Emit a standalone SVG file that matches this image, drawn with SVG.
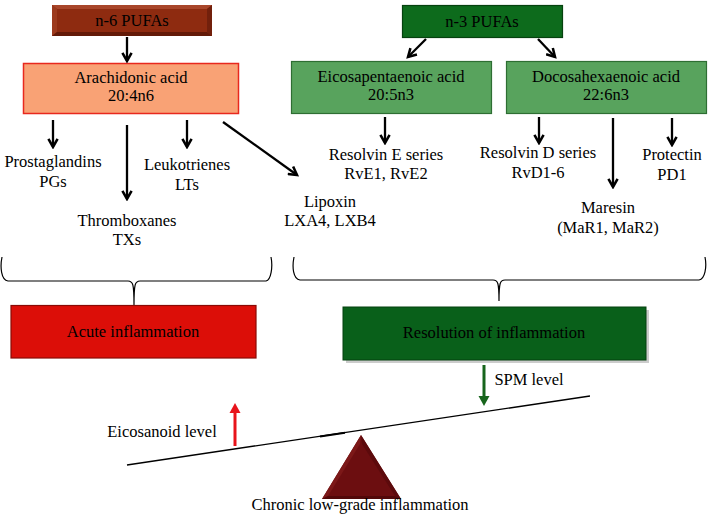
<svg xmlns="http://www.w3.org/2000/svg" width="708" height="516" viewBox="0 0 708 516">
<defs>
<style>
text{font-family:"Liberation Serif","Times New Roman",serif;font-size:16.5px;fill:#000;text-anchor:middle}
.ar{stroke:#000;stroke-width:2.3;fill:none}
.br{stroke:#000;stroke-width:1.2;fill:none}
</style>
<marker id="ah" viewBox="0 0 10 10" refX="8" refY="5" markerWidth="5" markerHeight="5" orient="auto" markerUnits="strokeWidth">
<path d="M1,1 L8,5 L1,9" fill="none" stroke="#000" stroke-width="2.2"/>
</marker>
</defs>
<rect width="708" height="516" fill="#fff"/>

<g id="n6">
<rect x="52" y="5" width="160" height="31" fill="#8E2B10"/>
<polygon points="52,5 212,5 207,9 57,9" fill="#A8462A"/>
<polygon points="52,5 57,9 57,32 52,36" fill="#9C3A1D"/>
<polygon points="52,36 57,32 207,32 212,36" fill="#631A08"/>
<polygon points="212,5 212,36 207,32 207,9" fill="#72200C"/>
<text x="132" y="26">n-6 PUFAs</text>
</g>
<g id="aa">
<rect x="23.5" y="63.5" width="215" height="50" fill="#F9A275" stroke="#E8281E" stroke-width="1.5"/>
<text x="131" y="83">Arachidonic acid</text>
<text x="131" y="101">20:4n6</text>
</g>
<g id="n3">
<rect x="402.5" y="5.5" width="160" height="32" fill="#0D6B1C" stroke="#06420F" stroke-width="1.2"/>
<text x="482" y="27">n-3 PUFAs</text>
</g>
<g id="epa">
<rect x="291.5" y="61.5" width="200" height="52" fill="#58A35D" stroke="#2E6E33" stroke-width="1.2"/>
<text x="391" y="82">Eicosapentaenoic acid</text>
<text x="391" y="100">20:5n3</text>
</g>
<g id="dha">
<rect x="506.5" y="61.5" width="200" height="52" fill="#58A35D" stroke="#2E6E33" stroke-width="1.2"/>
<text x="606" y="82">Docosahexaenoic acid</text>
<text x="606" y="100">22:6n3</text>
</g>

<g id="pg"><text x="53" y="167">Prostaglandins</text><text x="53" y="187">PGs</text></g>
<g id="tx"><text x="127" y="226">Thromboxanes</text><text x="127" y="245">TXs</text></g>
<g id="lt"><text x="187" y="170">Leukotrienes</text><text x="187" y="190">LTs</text></g>
<g id="lx"><text x="330" y="207">Lipoxin</text><text x="330" y="226">LXA4, LXB4</text></g>
<g id="rve"><text x="386" y="160">Resolvin E series</text><text x="386" y="179">RvE1, RvE2</text></g>
<g id="rvd"><text x="538" y="158">Resolvin D series</text><text x="538" y="178">RvD1-6</text></g>
<g id="pd"><text x="672" y="160">Protectin</text><text x="672" y="180">PD1</text></g>
<g id="mar"><text x="608" y="213">Maresin</text><text x="608" y="233">(MaR1, MaR2)</text></g>

<g id="connectors">
<line class="ar" x1="127" y1="37" x2="127" y2="61" marker-end="url(#ah)"/>
<line class="ar" x1="426" y1="39" x2="408" y2="57" marker-end="url(#ah)"/>
<line class="ar" x1="538" y1="39" x2="555" y2="57" marker-end="url(#ah)"/>
<line class="ar" x1="53" y1="120" x2="53" y2="147" marker-end="url(#ah)"/>
<line class="ar" x1="127" y1="125" x2="127" y2="199" marker-end="url(#ah)"/>
<line class="ar" x1="187" y1="120" x2="187" y2="147" marker-end="url(#ah)"/>
<line class="ar" x1="223" y1="122" x2="297" y2="175" marker-end="url(#ah)"/>
<line class="ar" x1="385" y1="117" x2="385" y2="143" marker-end="url(#ah)"/>
<line class="ar" x1="539" y1="117" x2="539" y2="143" marker-end="url(#ah)"/>
<line class="ar" x1="613" y1="118" x2="613" y2="187" marker-end="url(#ah)"/>
<line class="ar" x1="672" y1="118" x2="672" y2="145" marker-end="url(#ah)"/>
<path class="br" d="M2,257 C0,267 1,280 8,281 L128,281 C133,281 134,284 134,305 C134,284 135,281 140,281 L266,281 C271,280 273,267 271,257"/>
<path class="br" d="M294,257 C292,267 293,279 300,280 L493,280 C498,280 499,283 499,301 C499,283 500,280 505,280 L699,280 C705,279 707,267 705,257"/>
</g>

<g id="acute">
<rect x="11" y="305.5" width="245" height="52.5" fill="#DC0E08" stroke="#8A0A05" stroke-width="1.2"/>
<text x="133" y="337">Acute inflammation</text>
</g>
<g id="resolution">
<rect x="346" y="310" width="303" height="53" fill="#9a9a9a" opacity="0.5"/>
<rect x="343" y="307" width="303" height="53" fill="#09601A" stroke="#05400F" stroke-width="1"/>
<text x="494" y="338">Resolution of inflammation</text>
</g>

<g id="seesaw">
<line x1="127" y1="465" x2="590" y2="396" stroke="#000" stroke-width="1.3"/>
<line x1="320" y1="436.5" x2="345" y2="432.8" stroke="#000" stroke-width="2"/>
<polygon points="361,435 322,499 401,499" fill="#6C0E10"/>
<polygon points="361,435 322,499 328,496 360,444" fill="#7C1818"/>
<polygon points="361,435 401,499 395,496 362,444" fill="#5C0A0C"/>
<polygon points="322,499 401,499 395,496 328,496" fill="#520809"/>
</g>
<g id="eico">
<line x1="235" y1="446" x2="235" y2="412" stroke="#E8141B" stroke-width="3"/>
<polygon points="229.5,413 235,403 240.5,413" fill="#E8141B"/>
<text x="162" y="437">Eicosanoid level</text>
</g>
<g id="spm">
<line x1="484" y1="365" x2="484" y2="397" stroke="#17651C" stroke-width="3"/>
<polygon points="478.5,396 484,406 489.5,396" fill="#17651C"/>
<text x="529" y="385">SPM level</text>
</g>
<g id="chronic"><text x="360" y="510">Chronic low-grade inflammation</text></g>
</svg>
